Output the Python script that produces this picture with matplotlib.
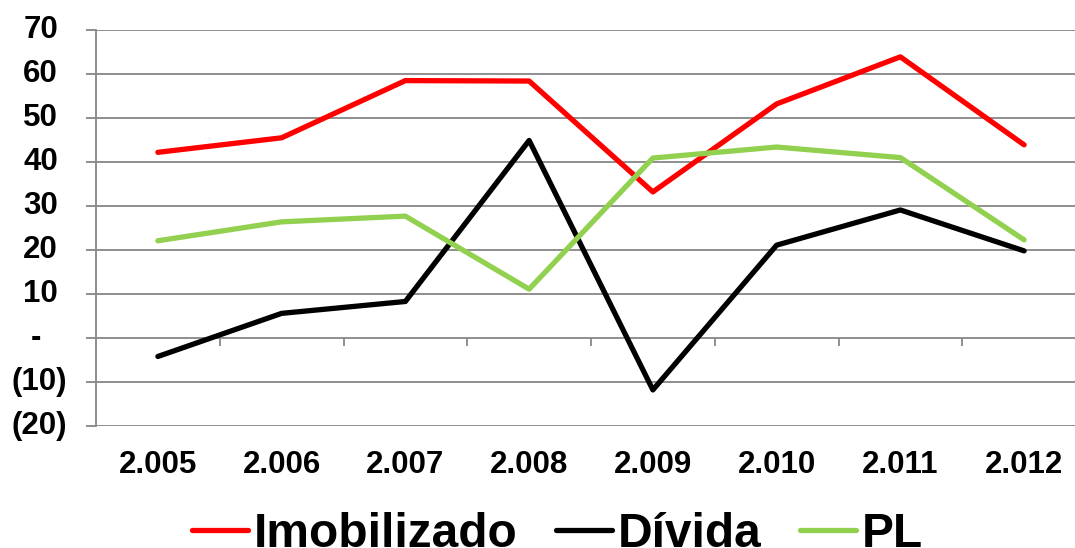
import matplotlib
matplotlib.use("Agg")
import matplotlib.pyplot as plt
from matplotlib.transforms import ScaledTranslation

years = ["2.005", "2.006", "2.007", "2.008", "2.009", "2.010", "2.011", "2.012"]
imobilizado = [42.2, 45.5, 58.5, 58.4, 33.2, 53.2, 63.9, 43.9]
divida = [-4.2, 5.6, 8.3, 44.9, -11.8, 21.1, 29.1, 19.8]
pl = [22.1, 26.4, 27.7, 11.1, 40.9, 43.4, 41.0, 22.3]

series_names = ["Imobilizado", "Dívida", "PL"]
series_colors = ["#FF0000", "#000000", "#92D050"]

yticks = [-20, -10, 0, 10, 20, 30, 40, 50, 60, 70]
ytick_labels = ["(20)", "(10)", "-", "10", "20", "30", "40", "50", "60", "70"]

plt.rcParams['font.family'] = ['Liberation Sans', 'DejaVu Sans']

W, H = 1075, 548
fig = plt.figure(figsize=(W / 100, H / 100), dpi=100)
ax = fig.add_axes([96 / W, (H - 426) / H, (1086 - 96) / W, 396 / H])

x = list(range(len(years)))
for vals, name, col in zip([imobilizado, divida, pl], series_names, series_colors):
    ax.plot(x, vals, color=col, lw=3.8, label=name,
            solid_capstyle='round', solid_joinstyle='round', zorder=3)

ax.set_xlim(-0.5, len(years) - 0.5)
ax.set_ylim(-20, 70)

grid_col = "#878787"
ax.set_yticks(yticks)
ax.yaxis.grid(True, color=grid_col, lw=1.3)
ax.set_axisbelow(True)
ax.tick_params(axis='y', length=7.2, width=1.3, color=grid_col, labelleft=False)

for s in ['top', 'right', 'bottom']:
    ax.spines[s].set_visible(False)
ax.spines['left'].set_color(grid_col)
ax.spines['left'].set_linewidth(1.3)

# x tick labels at bottom (no tick marks)
ax.set_xticks(x)
ax.set_xticklabels(years, fontsize=22.5, fontweight='bold')
ax.tick_params(axis='x', length=0, pad=17.5)

# category boundary tick marks hanging from zero line
ylo, yhi = ax.get_ylim()
sec = ax.secondary_xaxis((0 - ylo) / (yhi - ylo))
sec.set_xticks([i - 0.5 for i in range(1, len(years))])
sec.tick_params(axis='x', length=6, width=1.3, color=grid_col, labelbottom=False,
                direction='out')
sec.spines['bottom'].set_visible(False)

# y tick labels emulating Excel accounting format alignment
ytrans = ax.get_yaxis_transform()
for v, lab in zip(yticks, ytick_labels):
    if v > 0:
        dx = -38
    elif v < 0:
        dx = -29
    else:
        dx = -55
    tr = ytrans + ScaledTranslation(dx / 100, 0, fig.dpi_scale_trans)
    ax.text(0, v, lab, transform=tr, ha='right', va='center',
            fontsize=22.5, fontweight='bold', clip_on=False)

leg = fig.legend(loc='lower left', bbox_to_anchor=(168 / W, -0.06), ncol=3,
                 frameon=False, prop={'size': 34.5, 'weight': 'bold'},
                 handlelength=1.17, handletextpad=0.12, columnspacing=0.8,
                 borderpad=0.0)

fig.savefig("out.png", dpi=100)
